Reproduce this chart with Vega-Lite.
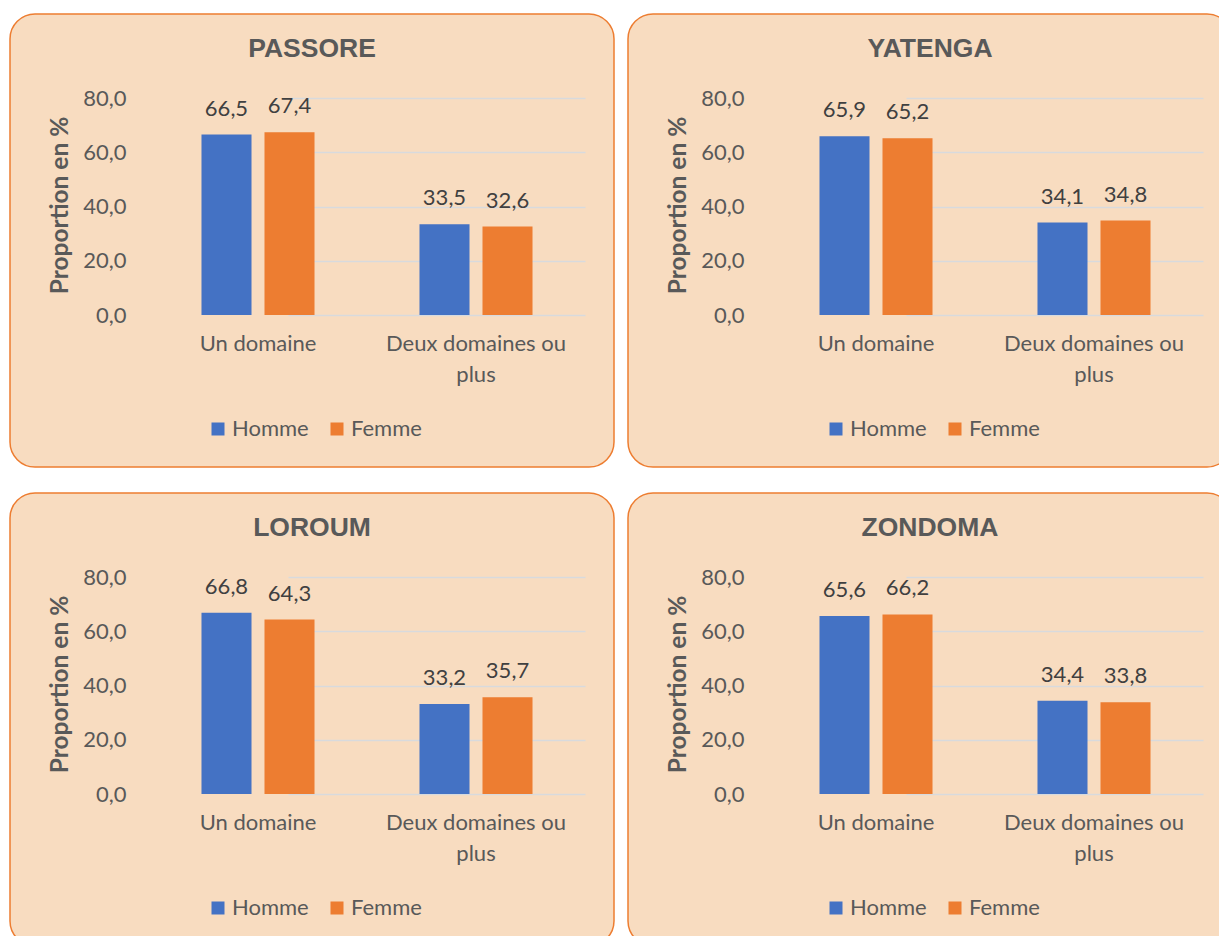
{
  "$schema": "https://vega.github.io/schema/vega-lite/v6.json",
  "background": "white",
  "padding": {"left": 9, "top": 13, "right": 0, "bottom": 0},
  "columns": 2,
  "spacing": {"row": 24, "column": 12},
  "data": {"values": [
    {"region": "PASSORE", "cat": "Un domaine", "sexe": "Homme", "val": 66.5},
    {"region": "PASSORE", "cat": "Un domaine", "sexe": "Femme", "val": 67.4},
    {"region": "PASSORE", "cat": "Deux domaines ou plus", "sexe": "Homme", "val": 33.5},
    {"region": "PASSORE", "cat": "Deux domaines ou plus", "sexe": "Femme", "val": 32.6},
    {"region": "YATENGA", "cat": "Un domaine", "sexe": "Homme", "val": 65.9},
    {"region": "YATENGA", "cat": "Un domaine", "sexe": "Femme", "val": 65.2},
    {"region": "YATENGA", "cat": "Deux domaines ou plus", "sexe": "Homme", "val": 34.1},
    {"region": "YATENGA", "cat": "Deux domaines ou plus", "sexe": "Femme", "val": 34.8},
    {"region": "LOROUM", "cat": "Un domaine", "sexe": "Homme", "val": 66.8},
    {"region": "LOROUM", "cat": "Un domaine", "sexe": "Femme", "val": 64.3},
    {"region": "LOROUM", "cat": "Deux domaines ou plus", "sexe": "Homme", "val": 33.2},
    {"region": "LOROUM", "cat": "Deux domaines ou plus", "sexe": "Femme", "val": 35.7},
    {"region": "ZONDOMA", "cat": "Un domaine", "sexe": "Homme", "val": 65.6},
    {"region": "ZONDOMA", "cat": "Un domaine", "sexe": "Femme", "val": 66.2},
    {"region": "ZONDOMA", "cat": "Deux domaines ou plus", "sexe": "Homme", "val": 34.4},
    {"region": "ZONDOMA", "cat": "Deux domaines ou plus", "sexe": "Femme", "val": 33.8}
  ]},
  "resolve": {"scale": {"color": "independent"}, "legend": {"color": "independent"}},
  "concat": [
    {
      "width": 604, "height": 453,
      "view": {"fill": "#F8DCC0", "stroke": "#ED7D31", "strokeWidth": 1.5, "cornerRadius": 25},
      "title": {"text": "PASSORE", "offset": -48},
      "transform": [{"filter": "datum.region == 'PASSORE'"}],
      "encoding": {
        "x": {"field": "cat", "type": "nominal", "sort": ["Un domaine", "Deux domaines ou plus"], "scale": {"range": [139, 575], "paddingInner": 0, "paddingOuter": 0}, "axis": {"title": null}},
        "xOffset": {"field": "sexe", "sort": ["Homme", "Femme"], "scale": {"paddingInner": 0.206, "paddingOuter": 0.833}},
        "y": {"field": "val", "type": "quantitative", "scale": {"domain": [0, 80], "range": [301, 84], "nice": false, "zero": true}, "axis": {"values": [0, 20, 40, 60, 80], "title": "Proportion en %"}}
      },
      "layer": [
        {"mark": {"type": "bar"}, "encoding": {"color": {"field": "sexe", "type": "nominal", "sort": ["Homme", "Femme"], "scale": {"domain": ["Homme", "Femme"], "range": ["#4472C4", "#ED7D31"]}, "legend": {"orient": "none", "legendX": 197, "legendY": 404, "direction": "horizontal", "title": null}}}},
        {"mark": {"type": "text", "baseline": "alphabetic", "dy": -19, "font": "Lato", "fontSize": 22, "color": "#404040", "text": {"expr": "replace(format(datum.val, '.1f'), '.', ',')"}}}
      ]
    },
    {
      "width": 604, "height": 453,
      "view": {"fill": "#F8DCC0", "stroke": "#ED7D31", "strokeWidth": 1.5, "cornerRadius": 25},
      "title": {"text": "YATENGA", "offset": -48},
      "transform": [{"filter": "datum.region == 'YATENGA'"}],
      "encoding": {
        "x": {"field": "cat", "type": "nominal", "sort": ["Un domaine", "Deux domaines ou plus"], "scale": {"range": [139, 575], "paddingInner": 0, "paddingOuter": 0}, "axis": {"title": null}},
        "xOffset": {"field": "sexe", "sort": ["Homme", "Femme"], "scale": {"paddingInner": 0.206, "paddingOuter": 0.833}},
        "y": {"field": "val", "type": "quantitative", "scale": {"domain": [0, 80], "range": [301, 84], "nice": false, "zero": true}, "axis": {"values": [0, 20, 40, 60, 80], "title": "Proportion en %"}}
      },
      "layer": [
        {"mark": {"type": "bar"}, "encoding": {"color": {"field": "sexe", "type": "nominal", "sort": ["Homme", "Femme"], "scale": {"domain": ["Homme", "Femme"], "range": ["#4472C4", "#ED7D31"]}, "legend": {"orient": "none", "legendX": 197, "legendY": 404, "direction": "horizontal", "title": null}}}},
        {"mark": {"type": "text", "baseline": "alphabetic", "dy": -19, "font": "Lato", "fontSize": 22, "color": "#404040", "text": {"expr": "replace(format(datum.val, '.1f'), '.', ',')"}}}
      ]
    },
    {
      "width": 604, "height": 453,
      "view": {"fill": "#F8DCC0", "stroke": "#ED7D31", "strokeWidth": 1.5, "cornerRadius": 25},
      "title": {"text": "LOROUM", "offset": -48},
      "transform": [{"filter": "datum.region == 'LOROUM'"}],
      "encoding": {
        "x": {"field": "cat", "type": "nominal", "sort": ["Un domaine", "Deux domaines ou plus"], "scale": {"range": [139, 575], "paddingInner": 0, "paddingOuter": 0}, "axis": {"title": null}},
        "xOffset": {"field": "sexe", "sort": ["Homme", "Femme"], "scale": {"paddingInner": 0.206, "paddingOuter": 0.833}},
        "y": {"field": "val", "type": "quantitative", "scale": {"domain": [0, 80], "range": [301, 84], "nice": false, "zero": true}, "axis": {"values": [0, 20, 40, 60, 80], "title": "Proportion en %"}}
      },
      "layer": [
        {"mark": {"type": "bar"}, "encoding": {"color": {"field": "sexe", "type": "nominal", "sort": ["Homme", "Femme"], "scale": {"domain": ["Homme", "Femme"], "range": ["#4472C4", "#ED7D31"]}, "legend": {"orient": "none", "legendX": 197, "legendY": 404, "direction": "horizontal", "title": null}}}},
        {"mark": {"type": "text", "baseline": "alphabetic", "dy": -19, "font": "Lato", "fontSize": 22, "color": "#404040", "text": {"expr": "replace(format(datum.val, '.1f'), '.', ',')"}}}
      ]
    },
    {
      "width": 604, "height": 453,
      "view": {"fill": "#F8DCC0", "stroke": "#ED7D31", "strokeWidth": 1.5, "cornerRadius": 25},
      "title": {"text": "ZONDOMA", "offset": -48},
      "transform": [{"filter": "datum.region == 'ZONDOMA'"}],
      "encoding": {
        "x": {"field": "cat", "type": "nominal", "sort": ["Un domaine", "Deux domaines ou plus"], "scale": {"range": [139, 575], "paddingInner": 0, "paddingOuter": 0}, "axis": {"title": null}},
        "xOffset": {"field": "sexe", "sort": ["Homme", "Femme"], "scale": {"paddingInner": 0.206, "paddingOuter": 0.833}},
        "y": {"field": "val", "type": "quantitative", "scale": {"domain": [0, 80], "range": [301, 84], "nice": false, "zero": true}, "axis": {"values": [0, 20, 40, 60, 80], "title": "Proportion en %"}}
      },
      "layer": [
        {"mark": {"type": "bar"}, "encoding": {"color": {"field": "sexe", "type": "nominal", "sort": ["Homme", "Femme"], "scale": {"domain": ["Homme", "Femme"], "range": ["#4472C4", "#ED7D31"]}, "legend": {"orient": "none", "legendX": 197, "legendY": 404, "direction": "horizontal", "title": null}}}},
        {"mark": {"type": "text", "baseline": "alphabetic", "dy": -19, "font": "Lato", "fontSize": 22, "color": "#404040", "text": {"expr": "replace(format(datum.val, '.1f'), '.', ',')"}}}
      ]
    }
  ],
  "config": {
    "title": {"font": "Liberation Sans", "fontSize": 26.5, "fontWeight": "bold", "color": "#595959", "anchor": "middle", "frame": "group"},
    "axisX": {"orient": "bottom", "offset": -152, "domain": false, "ticks": false, "tickSize": 0, "grid": false, "labelAngle": 0, "labelFont": "Lato", "labelFontSize": 22, "labelColor": "#595959", "labelPadding": 18, "labelLineHeight": 31, "labelLimit": 0, "labelBaseline": "top",
      "labelExpr": "datum.value == 'Deux domaines ou plus' ? ['Deux domaines ou', 'plus'] : datum.value"},
    "axisY": {"domain": false, "ticks": false, "tickSize": 0, "grid": true, "gridColor": "#D8DADD", "gridWidth": 1.3, "gridDash": [0, 139, 436, 2000], "labelFont": "Lato", "labelFontSize": 22, "labelColor": "#595959", "labelPadding": -116,
      "labelExpr": "replace(format(datum.value, '.1f'), '.', ',')",
      "titleFont": "Lato", "titleFontSize": 24.5, "titleFontWeight": "bold", "titleColor": "#595959", "titleX": 62, "titleY": 191, "titleAngle": 270, "titleAlign": "center", "titleBaseline": "bottom"},
    "bar": {"stroke": null},
    "legend": {"symbolType": "square", "symbolSize": 169, "symbolStrokeWidth": 0, "labelFont": "Lato", "labelFontSize": 22, "labelColor": "#595959", "labelOffset": 3, "columnPadding": 17, "padding": 0},
    "view": {"stroke": null}
  }
}
